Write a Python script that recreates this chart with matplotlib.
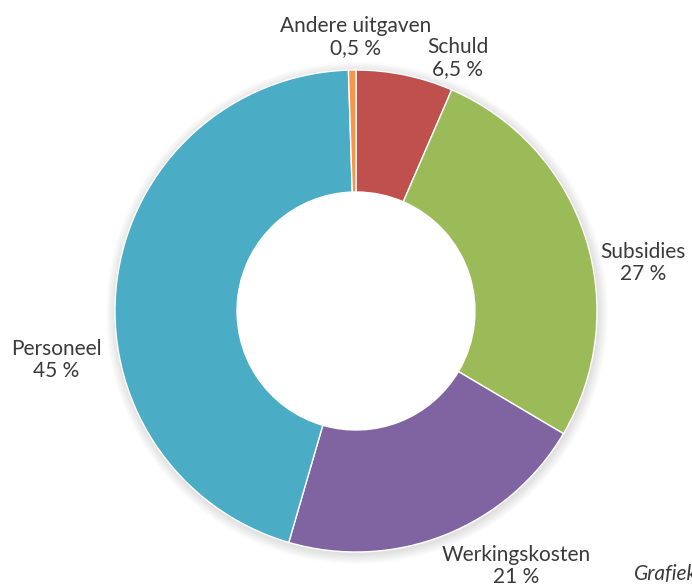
import matplotlib.pyplot as plt
from matplotlib.patches import Wedge

# data (clockwise from 12 o'clock)
categories = ['Schuld', 'Subsidies', 'Werkingskosten', 'Personeel', 'Andere uitgaven']
shares = [6.5, 27, 21, 45, 0.5]
share_labels = ['6,5 %', '27 %', '21 %', '45 %', '0,5 %']
colors = ['#C0504D', '#9BBB59', '#8064A2', '#4BACC6', '#F79646']

W, H = 692, 587
fig = plt.figure(figsize=(W / 100, H / 100), dpi=100)
ax = fig.add_axes([0, 0, 1, 1])

cx, cy = 356, H - 311
R, r_in = 241, 119

# soft shadow round the outside of the ring
for k in range(10):
    ax.add_patch(Wedge((cx + 1, cy - 2), R + 10 - k, 0, 360, width=12,
                       color='black', alpha=0.01, lw=0))

ax.pie(shares, colors=colors, startangle=90, counterclock=False,
       radius=R, center=(cx, cy), frame=True,
       wedgeprops=dict(width=R - r_in, edgecolor='white', linewidth=1))
ax.set_xlim(0, W)
ax.set_ylim(0, H)
ax.set_aspect('equal')
ax.axis('off')

# label positions (pixel coords from top-left)
label_pos = [(458, 58), (643, 263), (516, 566), (56, 360), (356, 37)]
txt = dict(fontsize=15, color='#3a3a3a', family=['Lato', 'DejaVu Sans'],
           ha='center', va='center', linespacing=1.15)
for name, lab, (x, y) in zip(categories, share_labels, label_pos):
    ax.text(x, H - y, name + '\n' + lab, **txt)

# caption that runs off the right edge, as in the original
ax.text(634, H - 574, 'Grafiek', fontsize=15, color='#3a3a3a', style='italic',
        family=['Lato', 'DejaVu Sans'], ha='left', va='center')

fig.savefig('out.png', dpi=100)
